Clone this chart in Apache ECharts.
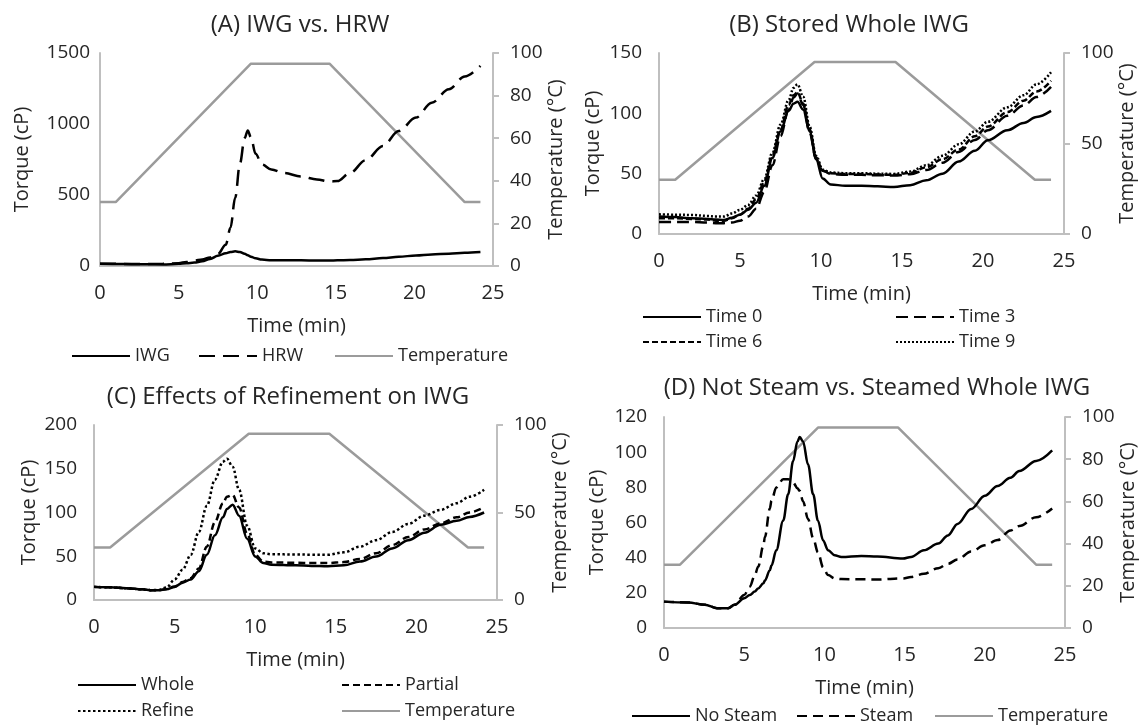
<!DOCTYPE html>
<html>
<head>
<meta charset="utf-8">
<script src="https://cdn.jsdelivr.net/npm/echarts@6/dist/echarts.min.js"></script>
<style>
html,body{margin:0;padding:0;background:#fff;}
#chart{width:1143px;height:727px;}
</style>
</head>
<body>
<div id="chart"></div>
<script>
// ---------- DATA ----------
// Temperature profile (°C)
const tempTime = [0, 1, 9.6, 14.6, 23.2, 24.2];
const tempValues = [30, 30, 95, 95, 30, 30];

// (A) IWG vs. HRW
const timeA = [0,1,2,3,4,5,5.5,6,6.5,7,7.5,8,8.3,8.6,8.9,9.2,9.4,9.6,9.9,10.3,10.9,11.7,12.8,13.8,14.6,15.1,15.9,16.9,18,19,20.1,21.1,22.2,23.2,24.2];
const iwgA = [15,14,13,12,11,15,19,24,33,50,72,90,99,103,98,86,76,66,54,45,41,40,40,39,39,40,42,47,56,65,74,81,87,93,98];
const hrwA = [15,15,14,14,15,20,28,38,46,60,85,150,270,480,720,900,955,905,790,715,680,655,630,610,595,598,655,745,845,950,1045,1150,1245,1335,1410];

// (B) Stored Whole IWG
const timeB = [0,1,2,3,3.5,4,4.5,5,5.5,6,6.5,7,7.5,8,8.3,8.55,8.9,9.3,9.7,10.1,10.6,11.5,12.5,13.5,14.5,15.5,16.5,17.5,18.5,19.5,20.3,21.5,22.5,23.3,24.2];
const time0B = [14.5,14,13,12.5,12,11.7,13.5,16,20,26,40,63,85,102,108,109.5,103,85,62,46,41,40,40,39.5,39,40.5,44.5,50,60,69,77.7,86,92,97,102];
const time3B = [10,10,10,9.5,9,9,9.5,11,14.5,21,35,57,81,103,113,116.5,107,84,62,52.5,49.8,49,49,48.7,48.5,49.5,53,59,68,78,86,98,106.5,113.5,122];
const time6B = [13,13,12.5,12,11,11,13,16,21,29,43,65,86.6,107,115,117.5,108,86.6,63.4,52.5,50.4,49.8,49.8,49.4,49,50.6,55.3,62,70,81,89,101,110.5,118,127];
const time9B = [16.3,16,15.8,15,14.4,14.4,17,20,24,32,45.7,67.5,90.7,111,121,124,113.8,89,64.8,53.4,51,50.4,50.4,50,49.8,51.7,57,64.8,74.3,85,93,105,115,124,134];

// (C) Effects of Refinement on IWG
const timeC = [0,1,2,3,3.5,4,4.5,5,5.5,6,6.5,7,7.5,8,8.25,8.6,9,9.5,10,10.5,11,12.5,13.5,14.5,15.5,16.5,17.5,18.5,19.5,20.5,21.5,22.5,23.3,24.2];
const wholeC = [15,14.5,13.4,12.2,11.2,11.2,12.3,15,19.8,23.5,32.9,51.6,74,94.5,104,109,96.4,70,49.7,42.2,40.3,39.6,39,38.5,39.6,44,49.7,59,68.4,77,86,90.5,95,100];
const partialC = [15,14.5,13.4,12.2,11.2,11.2,12.5,15.5,20.5,25,36,61,89,110.6,118,120,105.7,75.8,51.5,44,43,42.5,42.3,42.2,43.3,47,53.4,62.8,72,80.7,87.5,94.5,100,106];
const refineC = [15,14.5,13.4,12.2,11.2,11.5,14.2,23.5,34.7,51.6,77.7,107.6,137.5,158,161.5,152.4,126,85,59,53.4,52.3,52,51.8,51.6,54.5,61,68.4,77.7,87,96.4,103,110.6,118,126];

// (D) Not Steam vs. Steamed Whole IWG
const timeD = [0,1.5,2.55,3.3,4,4.4,5,5.35,5.66,5.87,6.2,6.29,6.6,6.7,7,7.43,7.74,8.05,8.32,8.46,8.67,8.98,9.3,9.6,9.92,10.23,10.64,11.06,12.3,13.3,14.9,15.4,16.2,17.1,17.7,18.3,19.15,20,20.8,21.6,22.15,23.2,24.2];
const noSteamD = [15,14.5,13.2,11.3,11.3,13.2,16.9,18.8,20.7,22.5,25.4,27,32.9,35.5,44.2,61,76,95,106,108.6,106,93,76,61,49.8,44.2,41.4,40.4,41,40.6,39.5,40.4,44.2,48,52.6,59.2,67.7,75.2,80.8,85.5,89.3,95,101];
const steamD = [15,14.5,13.2,11.3,11.3,13.2,18.8,23.5,30,34.8,47,51.7,68,72.4,79.9,84.6,84.6,82.7,79.5,78,72,62,51,43,34.5,30.1,28.2,27.8,27.7,27.6,28.2,29,30.8,34,36.5,39,43.5,47,50,55.5,58,63,68];

// ---------- HELPERS ----------
const zip = (xs, ys) => xs.map((x, i) => [x, ys[i]]);
const FONT = 'Open Sans';
const TXT = '#262626';
const AXIS_GRAY = '#bfbfbf';
const TEMP_GRAY = '#9b9b9b';

// panel layout (pixels)
const panels = [
  { key: 'A', title: '(A) IWG vs. HRW', titleX: 300, titleY: 25, grid: { left: 100, top: 53, width: 393, height: 213 }, leftMax: 1500, leftInt: 500, rightInt: 20, lGap: 68, lMargin: 10, rGap: 51 },
  { key: 'B', title: '(B) Stored Whole IWG', titleX: 849, titleY: 25, grid: { left: 659, top: 53, width: 405, height: 181 }, leftMax: 150, leftInt: 50, rightInt: 50, lGap: 56, lMargin: 17, rGap: 47 },
  { key: 'C', title: '(C) Effects of Refinement on IWG', titleX: 288, titleY: 397, grid: { left: 94, top: 425, width: 403, height: 175 }, leftMax: 200, leftInt: 50, rightInt: 50, lGap: 55, lMargin: 17, rGap: 46 },
  { key: 'D', title: '(D) Not Steam vs. Steamed Whole IWG', titleX: 877, titleY: 388, grid: { left: 664, top: 417, width: 401, height: 211 }, leftMax: 120, leftInt: 20, rightInt: 20, lGap: 57, lMargin: 17, rGap: 53 }
];

const grids = [], xAxes = [], yAxes = [], series = [], legends = [], graphics = [];

panels.forEach((p, i) => {
  grids.push(Object.assign({ containLabel: false }, p.grid));
  xAxes.push({
    type: 'value', gridIndex: i, min: 0, max: 25, interval: 5,
    name: 'Time (min)', nameLocation: 'middle', nameGap: 50,
    nameTextStyle: { fontFamily: FONT, fontSize: 20, color: TXT },
    axisLine: { lineStyle: { color: AXIS_GRAY, width: 2 } },
    axisTick: { show: false },
    axisLabel: { fontFamily: FONT, fontSize: 20, color: TXT, margin: 17 },
    splitLine: { show: false }
  });
  yAxes.push({
    type: 'value', gridIndex: i, position: 'left', min: 0, max: p.leftMax, interval: p.leftInt,
    name: 'Torque (cP)', nameLocation: 'middle', nameRotate: 90, nameGap: p.lGap,
    nameTextStyle: { fontFamily: FONT, fontSize: 20, color: TXT },
    axisLine: { show: true, lineStyle: { color: AXIS_GRAY, width: 2 } },
    axisTick: { show: false },
    axisLabel: { fontFamily: FONT, fontSize: 19, color: TXT, margin: p.lMargin, formatter: v => String(v) },
    splitLine: { show: false }
  });
  yAxes.push({
    type: 'value', gridIndex: i, position: 'right', min: 0, max: 100, interval: p.rightInt,
    name: 'Temperature (°C)', nameLocation: 'middle', nameRotate: 90, nameGap: p.rGap,
    nameTextStyle: { fontFamily: FONT, fontSize: 20, color: TXT, verticalAlign: 'top' },
    axisLine: { show: true, lineStyle: { color: AXIS_GRAY, width: 2 } },
    axisTick: { show: true, inside: false, length: 6, lineStyle: { color: AXIS_GRAY, width: 2 } },
    axisLabel: { fontFamily: FONT, fontSize: 19, color: TXT, margin: 17, formatter: v => String(v) },
    splitLine: { show: false }
  });
  graphics.push({
    type: 'text', x: p.titleX, y: p.titleY,
    style: { text: p.title, fontSize: 24, fontFamily: FONT, fill: TXT, align: 'center', verticalAlign: 'middle' }
  });
});

function line(name, panel, xs, ys, dash, color, width, yIdx, smooth) {
  return {
    name, type: 'line', xAxisIndex: panel, yAxisIndex: panel * 2 + (yIdx || 0),
    data: zip(xs, ys), showSymbol: false, symbol: 'none',
    smooth: smooth === false ? false : 0.35, smoothMonotone: 'x',
    lineStyle: { color: color || '#000', width: width || 2.5, type: dash || 'solid', cap: 'butt' },
    itemStyle: { color: color || '#000' },
    animation: false, z: color ? 2 : 3
  };
}
function temp(panel) {
  return line('Temperature', panel, tempTime, tempValues, 'solid', TEMP_GRAY, 2.5, 1, false);
}

// A
series.push(temp(0));
series.push(line('IWG', 0, timeA, iwgA, 'solid'));
series.push(line('HRW', 0, timeA, hrwA, [16, 8]));
// B
series.push(temp(1));
series.push(line('Time 0', 1, timeB, time0B, 'solid'));
series.push(line('Time 3', 1, timeB, time3B, [12, 6]));
series.push(line('Time 6', 1, timeB, time6B, [6, 3]));
series.push(line('Time 9', 1, timeB, time9B, [2, 2]));
// C
series.push(temp(2));
series.push(line('Whole', 2, timeC, wholeC, 'solid'));
series.push(line('Partial', 2, timeC, partialC, [7, 4]));
series.push(line('Refine', 2, timeC, refineC, [2.5, 2.5]));
// D
series.push(temp(3));
series.push(line('No Steam', 3, timeD, noSteamD, 'solid'));
series.push(line('Steam', 3, timeD, steamD, [10, 6]));

// legends: one per item, positioned absolutely (x = start of line sample)
function leg(name, x, yCenter) {
  legends.push({
    data: [name], left: x, top: yCenter - 10, padding: 0,
    itemWidth: 58, itemHeight: 20, itemGap: 0,
    itemStyle: { opacity: 0 },
    textStyle: { fontFamily: FONT, fontSize: 18, color: TXT },
    selectedMode: false
  });
}
leg('IWG', 71, 357); leg('HRW', 198, 357); leg('Temperature', 334, 357);
leg('Time 0', 642, 318); leg('Time 3', 895, 318);
leg('Time 6', 642, 343); leg('Time 9', 895, 343);
leg('Whole', 77, 686); leg('Partial', 341, 686);
leg('Refine', 77, 712); leg('Temperature', 341, 712);
leg('No Steam', 631, 717); leg('Steam', 796, 717); leg('Temperature', 934, 717);

const chart = echarts.init(document.getElementById('chart'), null, { renderer: 'canvas' });
chart.setOption({
  backgroundColor: '#fff',
  animation: false,
  textStyle: { fontFamily: FONT },
  grid: grids, xAxis: xAxes, yAxis: yAxes, series: series, legend: legends,
  graphic: graphics
});
</script>
</body>
</html>
